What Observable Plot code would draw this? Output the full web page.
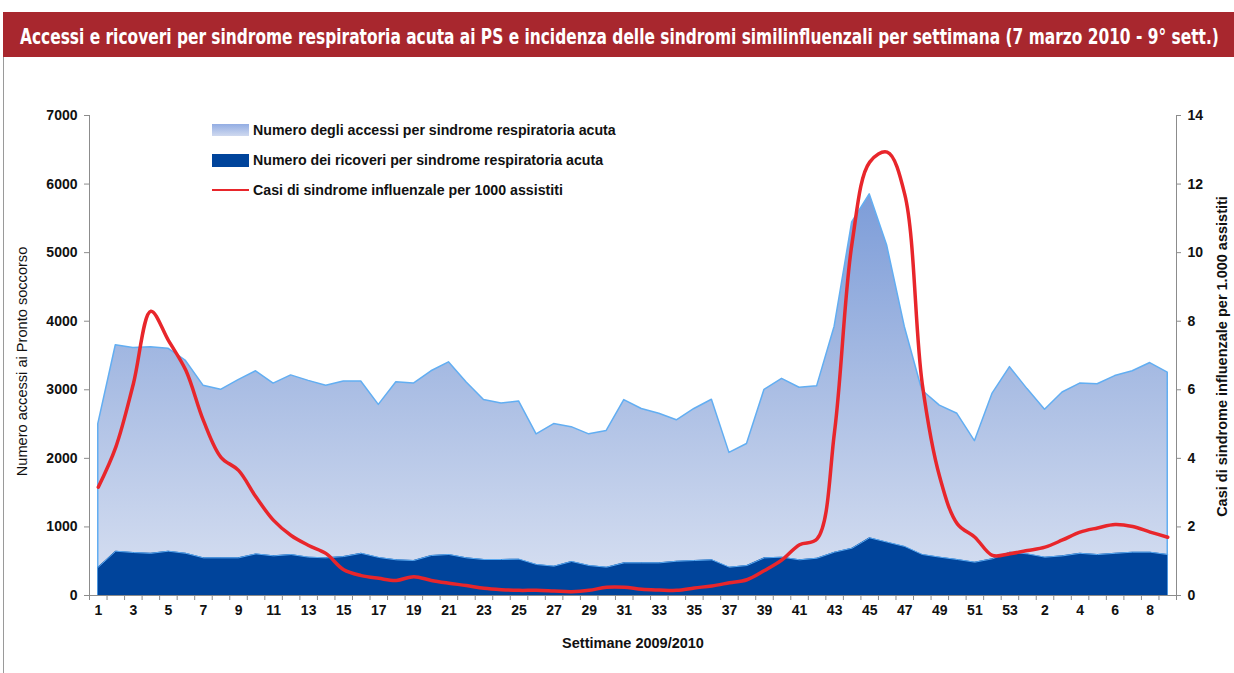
<!DOCTYPE html>
<html>
<head>
<meta charset="utf-8">
<script src="https://cdn.jsdelivr.net/npm/d3@7"></script>
<script src="https://cdn.jsdelivr.net/npm/@observablehq/plot@0.6"></script>
<style>
  html, body { margin: 0; padding: 0; background: #fff; }
  #wrap { position: relative; width: 1234px; height: 673px; overflow: hidden; font-family: "Liberation Sans", Arial, sans-serif; }
  #head { position: absolute; left: 3px; top: 12px; width: 1231px; height: 45px; background: #a8272e; }
  #leftline { position: absolute; left: 3px; top: 57px; width: 1px; height: 616px; background: #9a9a9a; }
  #chart { position: absolute; left: 0; top: 57px; }
  .leg { position: absolute; left: 212px; font-weight: bold; font-size: 14.2px; color: #111; }
  .leg .sw { position: absolute; left: 0; width: 37px; }
  .leg .tx { position: absolute; left: 41px; top: -1px; white-space: nowrap; line-height: 16px; }
</style>
</head>
<body>
<div id="wrap">
  <div id="head">
    <svg width="1231" height="45">
      <text id="title" x="0" y="0" fill="#fff" font-weight="bold" font-size="21"
        font-family="'Liberation Sans Narrow', 'DejaVu Sans Condensed', 'Arial Narrow', sans-serif"></text>
    </svg>
  </div>
  <div id="leftline"></div>
  <div id="chart"></div>
  <div class="leg" style="top:123px"><div class="sw" style="top:1px;height:12px;background:linear-gradient(#93ade3,#cfd9ef);"></div><div class="tx" id="l1"></div></div>
  <div class="leg" style="top:153px"><div class="sw" style="top:1px;height:13px;background:#00449b;"></div><div class="tx" id="l2"></div></div>
  <div class="leg" style="top:183px"><div class="sw" style="top:6px;height:2px;background:#e8262b;"></div><div class="tx" id="l3"></div></div>
</div>
<script>
const titleText = "Accessi e ricoveri per sindrome respiratoria acuta ai PS e incidenza delle sindromi similinfluenzali per settimana (7 marzo 2010 - 9° sett.)";
const legendLabels = [
  "Numero degli accessi per sindrome respiratoria acuta",
  "Numero dei ricoveri per sindrome respiratoria acuta",
  "Casi di sindrome influenzale per 1000 assistiti"
];
const xTitle = "Settimane 2009/2010";
const yLeftTitle = "Numero accessi ai Pronto soccorso";
const yRightTitle = "Casi di sindrome influenzale per 1.000 assistiti";

// Week labels: 2009 weeks 1..53, then 2010 weeks 1..9
const weeks = [1,2,3,4,5,6,7,8,9,10,11,12,13,14,15,16,17,18,19,20,21,22,23,24,25,26,27,28,29,30,
  31,32,33,34,35,36,37,38,39,40,41,42,43,44,45,46,47,48,49,50,51,52,53,
  1,2,3,4,5,6,7,8,9];

const accessi = [2500,3650,3610,3620,3600,3420,3060,3000,3140,3270,
  3090,3210,3130,3060,3120,3120,2780,3110,3090,3270,
  3400,3110,2850,2800,2830,2350,2500,2455,2350,2400,
  2850,2720,2650,2555,2720,2855,2080,2210,3000,3160,
  3030,3050,3920,5440,5850,5100,3920,2990,2770,2650,
  2250,2940,3330,
  3010,2710,2960,3090,3080,3200,3270,3390,3250];

const ricoveri = [413,646,627,615,646,615,549,549,549,607,
  578,597,559,549,568,615,555,520,510,583,
  598,549,525,525,530,452,428,496,437,413,
  476,476,476,500,510,520,413,437,549,559,
  520,544,632,690,841,778,715,598,559,525,
  486,535,632,
  607,559,578,615,597,615,632,632,597];

const ili = [3.16,4.33,6.17,8.29,7.44,6.56,5.1,4.03,3.65,2.87,
  2.19,1.75,1.46,1.22,0.75,0.58,0.5,0.44,0.55,0.44,
  0.36,0.29,0.21,0.17,0.15,0.15,0.13,0.11,0.15,0.24,
  0.24,0.18,0.16,0.15,0.22,0.28,0.37,0.46,0.73,1.04,
  1.48,1.65,4.8,10.3,12.64,12.93,11.7,6.17,3.45,2.09,
  1.7,1.17,1.22,
  1.31,1.41,1.62,1.85,1.97,2.07,2.01,1.85,1.7];

const leftTicks = [0,1000,2000,3000,4000,5000,6000,7000];
const rightTicks = [0,2,4,6,8,10,12,14];

// Title: fit to the band width by font size, keep glyph height with a vertical scale
const titleEl = document.getElementById("title");
titleEl.textContent = titleText;
const targetW = 1200, baseFs = 21;
const natW = titleEl.getComputedTextLength();
const fs = Math.min(baseFs, baseFs * targetW / natW);
titleEl.setAttribute("font-size", fs);
titleEl.setAttribute("transform", `translate(17,32) scale(1,${(baseFs / fs).toFixed(3)})`);

document.getElementById("l1").textContent = legendLabels[0];
document.getElementById("l2").textContent = legendLabels[1];
document.getElementById("l3").textContent = legendLabels[2];

const rows = weeks.map((w, i) => ({i, w, acc: accessi[i], ric: ricoveri[i], ili: ili[i]}));
const scaleR = 7000 / 14;
const labelIdx = rows.filter(d => d.i % 2 === 0).map(d => d.i);
const tickIdx = rows.map(d => d.i - 0.5).concat([rows.length - 0.5]);

const H = 616, MT = 58, MB = 78;
const defs = () => {
  const g = d3.create("svg:defs");
  const lg = g.append("linearGradient").attr("id", "gradAcc")
    .attr("gradientUnits", "userSpaceOnUse")
    .attr("x1", 0).attr("x2", 0).attr("y1", MT).attr("y2", H - MB);
  lg.append("stop").attr("offset", "0%").attr("stop-color", "#6a8fd4");
  lg.append("stop").attr("offset", "55%").attr("stop-color", "#a8bce3");
  lg.append("stop").attr("offset", "100%").attr("stop-color", "#d9e1f2");
  return g.node();
};

const axisColor = "#8c8c8c";
const chart = Plot.plot({
  width: 1234, height: H,
  marginLeft: 89, marginRight: 58, marginTop: MT, marginBottom: MB,
  x: {domain: [-0.5, rows.length - 0.5], axis: null},
  y: {domain: [0, 7000], axis: null},
  style: {fontFamily: "'Liberation Sans', Arial, sans-serif", color: "#111", background: "transparent"},
  marks: [
    defs,
    Plot.areaY(rows, {x: "i", y: "acc", fill: "url(#gradAcc)", stroke: "#62aef2", strokeWidth: 1.5}),
    Plot.areaY(rows, {x: "i", y: "ric", fill: "#00449b"}),
    Plot.lineY(rows, {x: "i", y: "ric", stroke: "#5aa9f0", strokeWidth: 1}),
    Plot.lineY(rows, {x: "i", y: d => d.ili * scaleR, stroke: "#e8262b", strokeWidth: 3.5, curve: "catmull-rom"}),
    Plot.ruleX([-0.5], {y1: 0, y2: 7000, stroke: axisColor}),
    Plot.ruleX([rows.length - 0.5], {y1: 0, y2: 7000, stroke: axisColor}),
    Plot.ruleY([0], {stroke: axisColor}),
    Plot.axisY({anchor: "left", ticks: leftTicks, tickSize: 5, tickPadding: 7, stroke: axisColor,
      fontSize: 14, fontWeight: "bold", label: null, tickFormat: d => String(d)}),
    Plot.axisY({anchor: "right", ticks: rightTicks.map(v => v * scaleR), tickSize: 4, tickPadding: 7, stroke: axisColor,
      fontSize: 14, fontWeight: "bold", label: null, tickFormat: d => String(d / scaleR)}),
    Plot.axisX({ticks: tickIdx, tickSize: 5, stroke: axisColor, tickFormat: () => "", label: null}),
    Plot.axisX({ticks: labelIdx, tickSize: 0, tickPadding: 10, fontSize: 14, fontWeight: "bold",
      tickFormat: i => String(weeks[i]), label: null}),
    Plot.text([xTitle], {frameAnchor: "bottom", dy: 52, fontSize: 14.5, fontWeight: "bold"}),
    Plot.text([yLeftTitle], {frameAnchor: "left", textAnchor: "middle", dx: -67, dy: 6, rotate: -90, fontSize: 14.6}),
    Plot.text([yRightTitle], {frameAnchor: "right", textAnchor: "middle", dx: 46, dy: 1, rotate: -90, fontSize: 14.5, fontWeight: "bold"})
  ]
});
document.getElementById("chart").appendChild(chart);
</script>
</body>
</html>
